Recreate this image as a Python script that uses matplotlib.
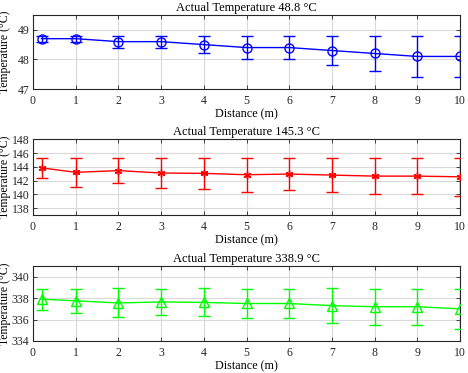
import numpy as np
import matplotlib
matplotlib.use("Agg")
import matplotlib.pyplot as plt

plt.rcParams['font.family'] = ['Liberation Serif', 'DejaVu Serif']
plt.rcParams['font.size'] = 9

distance = [0.2, 1, 2, 3, 4, 5, 6, 7, 8, 9, 10]

actual1 = 48.8
temp1 = [48.7, 48.7, 48.6, 48.6, 48.5, 48.4, 48.4, 48.3, 48.2, 48.1, 48.1]
err1 = [0.1, 0.1, 0.2, 0.2, 0.3, 0.4, 0.4, 0.5, 0.6, 0.7, 0.7]

actual2 = 145.3
temp2 = [143.85, 143.2, 143.45, 143.1, 143.05, 142.85, 142.95, 142.8, 142.65, 142.65, 142.55]
err2 = [1.45, 2.1, 1.85, 2.2, 2.25, 2.45, 2.35, 2.5, 2.65, 2.65, 2.75]

actual3 = 338.9
temp3 = [337.9, 337.75, 337.55, 337.65, 337.6, 337.5, 337.5, 337.3, 337.2, 337.2, 337.0]
err3 = [1.0, 1.15, 1.35, 1.25, 1.3, 1.4, 1.4, 1.6, 1.7, 1.7, 1.9]

panels = [
    (actual1, temp1, err1, (0, 0, 1), 'o', 6.5, (47, 49.5), [47, 48, 49]),
    (actual2, temp2, err2, (1, 0, 0), (6, 2, 0), 5.5, (137, 148), [138, 140, 142, 144, 146, 148]),
    (actual3, temp3, err3, (0, 1, 0), '^', 7, (334, 341), [334, 336, 338, 340]),
]

fig = plt.figure(figsize=(4.68, 3.73), dpi=100)
W, H = 468, 373
boxes = [(15, 89), (139.3, 215), (266, 341)]
left, right = 33, 460

for (actual, temp, err, color, marker, msize, ylim, yticks), (top, bottom) in zip(panels, boxes):
    ax = fig.add_axes([left / W, 1 - bottom / H, (right - left) / W, (bottom - top) / H])
    ax.errorbar(distance, temp, yerr=err, color=color, marker=marker,
                markersize=msize, markerfacecolor='none', markeredgecolor=color,
                markeredgewidth=1.0, linewidth=1.0, capsize=4.5, elinewidth=1.0,
                capthick=1.0, zorder=3)
    ax.set_xlim(0, 10)
    ax.set_ylim(*ylim)
    ax.set_xticks(range(0, 11))
    ax.set_yticks(yticks)
    ax.grid(True, color='#d9d9d9', linewidth=0.8)
    ax.set_axisbelow(True)
    ax.tick_params(direction='in', top=True, right=True, length=3, width=0.6,
                   labelsize=8.5, colors='#262626', labelcolor='#262626', pad=2.5)
    ax.tick_params(axis='x', pad=4)
    for s in ax.spines.values():
        s.set_linewidth(0.8)
        s.set_color('#262626')
    ax.set_title('Actual Temperature %.1f °C' % actual, fontsize=9, pad=3)
    ax.set_xlabel('Distance (m)', fontsize=8.75, labelpad=1)
    ax.set_ylabel('Temperature (°C)', fontsize=8.5)
    ax.yaxis.set_label_coords(-0.052, 0.5)

fig.savefig('out.png', dpi=100)
